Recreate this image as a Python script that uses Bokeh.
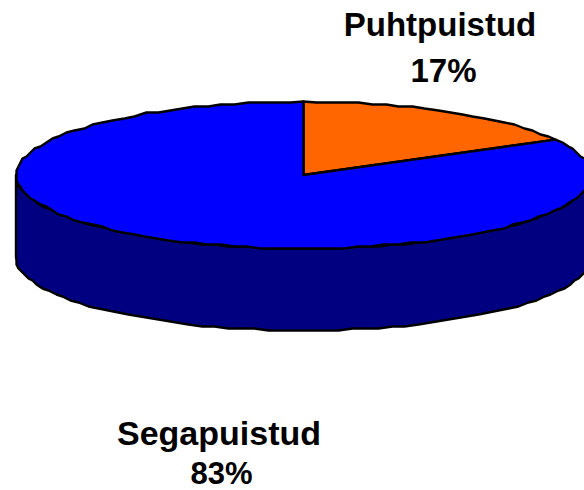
import numpy as np
from bokeh.core.properties import value
from bokeh.embed import file_html
from bokeh.plotting import figure
from bokeh.resources import INLINE

categories = ["Puhtpuistud", "Segapuistud"]
shares = [17, 83]
labels = ["17%", "83%"]
colors = ["#FF6600", "#0000FF"]
side_color = "#000080"

CX, CY, RX, RY, DEPTH = 303.0, 174.5, 287.5, 73.5, 82.0
GRID = 2.0


def rim(start, stop, dy=0.0):
    n = max(3, int(round((stop - start) / (2 * np.pi) * 130)))
    t = np.linspace(start, stop, n + 1)
    x = CX + RX * np.sin(t)
    y = CY - RY * np.cos(t) + dy
    # the source is a coarse raster drawing: outline steps on a small grid
    x[1:-1] = np.round(x[1:-1] / GRID) * GRID
    y[1:-1] = np.round(y[1:-1] / GRID) * GRID
    return x, y


p = figure(width=584, height=490, x_range=(0, 584), y_range=(490, 0),
           output_backend="svg", toolbar_location=None, min_border=0)
p.axis.visible = False
p.grid.visible = False
p.outline_line_color = None
p.background_fill_color = "#FFFFFF"

# side wall: front half of the rim, and the same half dropped by the depth
tx, ty = rim(np.pi / 2, 3 * np.pi / 2)
bx, by = rim(np.pi / 2, 3 * np.pi / 2, DEPTH)
p.patch(np.r_[tx, bx[::-1]], np.r_[ty, by[::-1]], fill_color=side_color,
        line_color="#000000", line_width=2.4, line_join="round")

# top face: slices clockwise from twelve o'clock, sized from the shares
total = sum(shares)
a0 = 0.0
for share, color in zip(shares, colors):
    a1 = a0 + 2 * np.pi * share / total
    x, y = rim(a0, a1)
    p.patch(np.r_[CX, x], np.r_[CY, y], fill_color=color,
            line_color="#000000", line_width=2.4, line_join="round")
    a0 = a1

FONT = value("Liberation Sans")
for name, pct, nx, ny, px, py, size, psize in zip(categories, labels,
                                                  [439.5, 218.5], [24, 432],
                                                  [443, 221], [70, 473],
                                                  ["33px", "34px"], ["33px", "31px"]):
    p.text([nx], [ny], text=[name], text_font=FONT, text_font_style="bold",
           text_font_size=size, text_align="center", text_baseline="alphabetic",
           text_color="#000000")
    p.text([px], [py], text=[pct], text_font=FONT, text_font_style="bold",
           text_font_size=psize, text_align="center", text_baseline="alphabetic",
           text_color="#000000")

open("out.html", "w").write(file_html(p, INLINE))
